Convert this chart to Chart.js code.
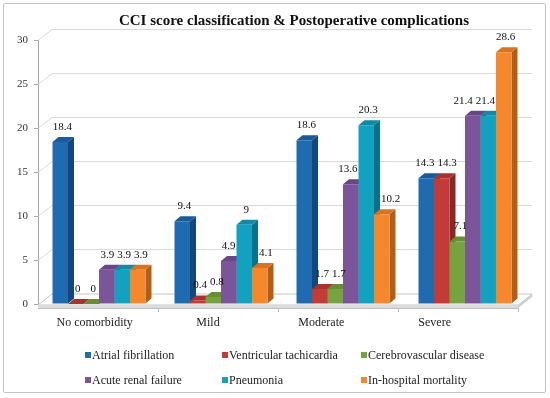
<!DOCTYPE html>
<html><head><meta charset="utf-8">
<script src="https://cdn.jsdelivr.net/npm/chart.js@4.4.0/dist/chart.umd.min.js"></script>
<style>
html,body{margin:0;padding:0;background:#fff;}
#wrap{position:relative;width:550px;height:398px;overflow:hidden;font-family:"Liberation Serif","Times New Roman",serif;}
#frame{position:absolute;left:3px;top:3px;width:541px;height:388px;border:1px solid #c4c4c4;border-radius:2px;}
canvas{position:absolute;left:0;top:0;}
#title{position:absolute;left:38px;width:512px;top:11px;text-align:center;font-weight:bold;font-size:15px;line-height:18px;color:#111;white-space:nowrap;}
.lg{position:absolute;font-size:12px;line-height:14px;color:#222;white-space:nowrap;}
.lg i{position:absolute;left:-7px;top:4px;width:6px;height:6px;}
</style></head>
<body><div id="wrap"><div id="frame"></div><canvas id="c" width="550" height="398"></canvas><div id="title">CCI score classification &amp; Postoperative complications</div><div id="legend"></div></div>
<script>
const categories = ["No comorbidity", "Mild", "Moderate", "Severe"];
const seriesNames = ["Atrial fibrillation", "Ventricular tachicardia", "Cerebrovascular disease", "Acute renal failure", "Pneumonia", "In-hospital mortality"];
const atrialFibrillation = [18.4, 9.4, 18.6, 14.3];
const ventricularTachicardia = [0, 0.4, 1.7, 14.3];
const cerebrovascularDisease = [0, 0.8, 1.7, 7.1];
const acuteRenalFailure = [3.9, 4.9, 13.6, 21.4];
const pneumonia = [3.9, 9, 20.3, 21.4];
const inHospitalMortality = [3.9, 4.1, 10.2, 28.6];
const yTicks = [0, 5, 10, 15, 20, 25, 30];

const seriesValues = [atrialFibrillation, ventricularTachicardia, cerebrovascularDisease, acuteRenalFailure, pneumonia, inHospitalMortality];
const fronts = ["#1F6BB0", "#C23B36", "#76A33E", "#7B5499", "#12A2C0", "#F5882C"];
const tops   = ["#1A5A98", "#A83230", "#64902F", "#684585", "#0E8BA6", "#D9731F"];
const sides  = ["#14477A", "#8A2826", "#4E7225", "#55386D", "#0B7088", "#B35E16"];

// legend (HTML)
const legend = document.getElementById('legend');
const colX = [92, 229, 368], rowY = [355, 380];
seriesNames.forEach((n, i) => {
  const d = document.createElement('div');
  d.className = 'lg';
  d.style.left = colX[i % 3] + 'px';
  d.style.top = (rowY[Math.floor(i / 3)] - 7) + 'px';
  d.innerHTML = '<i style="background:' + fronts[i] + '"></i>' + n;
  legend.appendChild(d);
});

const DX = 6, DY = 5;
const threeD = {
  id: 'threeD',
  beforeDatasetsDraw(chart) {
    const {ctx, chartArea: a, scales: {y}} = chart;
    ctx.save();
    const wdx = 14, wdy = 11, wallRight = 532;
    ctx.strokeStyle = '#d9d9d9'; ctx.lineWidth = 1;
    yTicks.forEach(v => {
      if (v === 0) return;
      const py = Math.round(y.getPixelForValue(v)) + 0.5;
      ctx.beginPath(); ctx.moveTo(a.left, py); ctx.lineTo(a.left + wdx, py - wdy); ctx.lineTo(wallRight, py - wdy); ctx.stroke();
    });
    const fy = a.bottom + 1, fr = a.left + (a.right - a.left) * 0.984;
    ctx.fillStyle = '#ffffff'; ctx.strokeStyle = '#c6c6c6';
    ctx.beginPath(); ctx.moveTo(a.left, fy); ctx.lineTo(fr, fy); ctx.lineTo(fr + wdx, fy - wdy); ctx.lineTo(a.left + wdx, fy - wdy); ctx.closePath(); ctx.fill(); ctx.stroke();
    ctx.fillStyle = '#dcdcdc';
    ctx.fillRect(a.left, fy, fr - a.left, 3);
    ctx.fillStyle = '#cfcfcf';
    ctx.beginPath(); ctx.moveTo(fr, fy); ctx.lineTo(fr + wdx, fy - wdy); ctx.lineTo(fr + wdx, fy - wdy + 3); ctx.lineTo(fr, fy + 3); ctx.closePath(); ctx.fill();
    ctx.strokeStyle = '#bdbdbd';
    ctx.beginPath(); ctx.moveTo(a.left, fy + 3.5); ctx.lineTo(fr, fy + 3.5); ctx.stroke();
    const n = chart.data.datasets.length;
    for (let c = 0; c < categories.length; c++) {
      for (let d = 0; d < n; d++) {
        const el = chart.getDatasetMeta(d).data[c];
        const l = el.x - el.width / 2, r = el.x + el.width / 2, t = el.y, b = el.base;
        ctx.fillStyle = sides[d];
        ctx.beginPath(); ctx.moveTo(r, t); ctx.lineTo(r + DX, t - DY); ctx.lineTo(r + DX, b - DY); ctx.lineTo(r, b); ctx.closePath(); ctx.fill();
        ctx.fillStyle = tops[d];
        ctx.beginPath(); ctx.moveTo(l, t); ctx.lineTo(l + DX, t - DY); ctx.lineTo(r + DX, t - DY); ctx.lineTo(r, t); ctx.closePath(); ctx.fill();
      }
    }
    ctx.restore();
  },
  afterDatasetsDraw(chart) {
    const {ctx, chartArea: a} = chart;
    ctx.save();
    ctx.font = '11px "Liberation Serif"'; ctx.fillStyle = '#111';
    ctx.textAlign = 'center'; ctx.textBaseline = 'middle';
    const nd = chart.data.datasets.length;
    for (let c = 0; c < categories.length; c++) {
      const els = [];
      for (let d = 0; d < nd; d++) els.push(chart.getDatasetMeta(d).data[c]);
      const items = els.map((el, d) => {
        const text = String(chart.data.datasets[d].data[c]);
        const w = ctx.measureText(text).width, half = w / 2;
        const y = el.y - 15;
        let minX = -Infinity, maxX = Infinity;
        const prev = els[d - 1], next = els[d + 1];
        if (prev && prev.y - DY < y + 6) minX = prev.x + prev.width / 2 + DX + 1 + half;
        if (next && next.y - DY < y + 6) maxX = next.x - next.width / 2 - 1 - half;
        let x = el.x + 2;
        if (minX > maxX) x = (minX + maxX) / 2;
        else x = Math.min(Math.max(x, minX), maxX);
        if (minX > maxX) { minX = maxX = x; }
        return {text, w, x, y, minX, maxX};
      });
      const gap = 3;
      const spread = (bounded) => {
        for (let pass = 0; pass < 20; pass++) {
          for (let i = 1; i < items.length; i++) {
            const p = items[i - 1], q = items[i];
            if (Math.abs(p.y - q.y) > 10) continue;
            const ov = (p.x + p.w / 2 + gap) - (q.x - q.w / 2);
            if (ov > 0.01) {
              p.x = bounded ? Math.max(p.x - ov / 2, p.minX) : p.x - ov / 2;
              q.x = bounded ? Math.min(q.x + ov / 2, q.maxX) : q.x + ov / 2;
            }
          }
        }
      };
      spread(true);
      spread(false);
      items.forEach(it => ctx.fillText(it.text, it.x, it.y));
    }
    const n = categories.length, w = (a.right - a.left) / n, k = 0.929;
    ctx.font = '12px "Liberation Serif"'; ctx.fillStyle = '#222';
    categories.forEach((c, i) => {
      const cx = a.left + (i + 0.5) * w;
      ctx.fillText(c, a.left + (cx - a.left) * k, 323);
    });
    ctx.strokeStyle = '#bdbdbd'; ctx.lineWidth = 1;
    for (let i = 1; i <= n; i++) {
      const bx = Math.round(a.left + i * w * 0.984) + 0.5;
      ctx.beginPath(); ctx.moveTo(bx, a.bottom + 4); ctx.lineTo(bx, a.bottom + 8); ctx.stroke();
    }
    ctx.restore();
  }
};

new Chart(document.getElementById('c').getContext('2d'), {
  type: 'bar',
  data: {
    labels: categories,
    datasets: seriesNames.map((n, i) => ({
      label: n, data: seriesValues[i], backgroundColor: fronts[i], borderWidth: 0,
      categoryPercentage: 0.762, barPercentage: 1
    }))
  },
  options: {
    responsive: false, animation: false, devicePixelRatio: 1,
    layout: {padding: {left: 0, right: 24, top: 40, bottom: 94}},
    plugins: {legend: {display: false}, title: {display: false}, tooltip: {enabled: false}},
    scales: {
      x: {display: false, offset: true},
      y: {
        min: 0, max: 30,
        afterBuildTicks(s) { s.ticks = yTicks.map(v => ({value: v})); },
        afterFit(s) { s.width = 38; },
        grid: {drawOnChartArea: false, drawTicks: true, tickLength: 4, color: '#a6a6a6'},
        border: {display: true, color: '#a6a6a6'},
        ticks: {padding: 6, color: '#333', font: {family: 'Liberation Serif', size: 11}}
      }
    }
  },
  plugins: [threeD]
});
</script>
</body></html>
